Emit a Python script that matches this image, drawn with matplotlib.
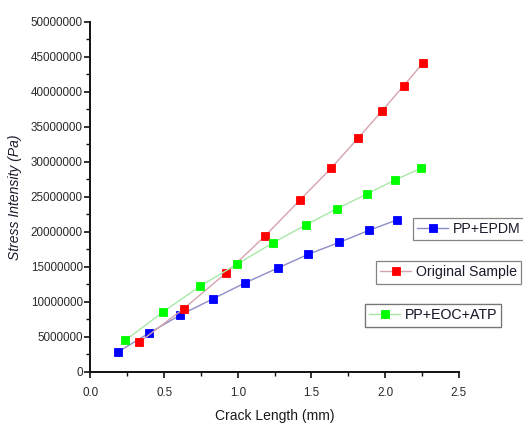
import matplotlib
matplotlib.use("Agg")
import matplotlib.pyplot as plt
from matplotlib.ticker import MultipleLocator, FormatStrFormatter

plt.rcParams['font.family'] = ['Liberation Sans', 'DejaVu Sans']

# Crack length (mm) and stress intensity (Pa) for each material
epdm_x = [0.185, 0.396, 0.61, 0.83, 1.05, 1.27, 1.48, 1.69, 1.89, 2.08]
epdm_y = [2.8e6, 5.5e6, 8.1e6, 10.4e6, 12.7e6, 14.8e6, 16.8e6, 18.5e6, 20.2e6, 21.7e6]

orig_x = [0.33, 0.633, 0.92, 1.185, 1.42, 1.634, 1.817, 1.98, 2.127, 2.26]
orig_y = [4.2e6, 9.0e6, 14.1e6, 19.4e6, 24.5e6, 29.1e6, 33.4e6, 37.3e6, 40.9e6, 44.2e6]

eoc_x = [0.237, 0.49, 0.746, 0.997, 1.237, 1.464, 1.672, 1.876, 2.066, 2.245]
eoc_y = [4.5e6, 8.5e6, 12.25e6, 15.4e6, 18.4e6, 21.0e6, 23.3e6, 25.4e6, 27.4e6, 29.1e6]

series_names = ["PP+EPDM", "Original Sample", "PP+EOC+ATP"]

fig = plt.figure(figsize=(5.23, 4.23), dpi=100)
ax = fig.add_axes([0.1729, 0.1213, 0.8771 - 0.1729, 0.948 - 0.1213])

styles = [
    (epdm_x, epdm_y, "#8c8cc8", "#0000ff"),
    (orig_x, orig_y, "#d4a4ac", "#ff0000"),
    (eoc_x, eoc_y, "#a8e8a8", "#00ff00"),
]
handles = []
for (xs, ys, lc, mc), name in zip(styles, series_names):
    h, = ax.plot(xs, ys, color=lc, lw=1.0, marker='s', markersize=5.2,
                 markerfacecolor=mc, markeredgecolor=mc, markeredgewidth=0.6,
                 label=name, zorder=3)
    handles.append(h)

ax.set_xlim(0, 2.5)
ax.set_ylim(0, 50000000)
ax.xaxis.set_major_locator(MultipleLocator(0.5))
ax.xaxis.set_minor_locator(MultipleLocator(0.25))
ax.yaxis.set_major_locator(MultipleLocator(5000000))
ax.yaxis.set_minor_locator(MultipleLocator(2500000))
ax.xaxis.set_major_formatter(FormatStrFormatter('%.1f'))
ax.yaxis.set_major_formatter(FormatStrFormatter('%d'))

for s in ['top', 'right']:
    ax.spines[s].set_visible(False)
for s in ['left', 'bottom']:
    ax.spines[s].set_linewidth(1.4)
    ax.spines[s].set_color('#111111')

ax.tick_params(which='major', direction='out', length=4, width=1.2,
               labelsize=8.4, colors='#111111', labelcolor='#2a2a2a')
ax.tick_params(which='minor', direction='out', length=3, width=1.0, colors='#111111')
ax.tick_params(axis='y', which='major', pad=1.5)
ax.tick_params(axis='x', which='major', pad=7)

ax.set_xlabel("Crack Length (mm)", fontsize=10, color='#1a1a1a', labelpad=7)
ax.set_ylabel("Stress Intensity (Pa)", fontsize=10, style='italic', color='#1a1a2a', labelpad=6)

# one framed legend box per series
anchors = [(413 / 523, 1 - 218 / 423), (376 / 523, 1 - 261 / 423), (365 / 523, 1 - 304 / 423)]
for h, anc in zip(handles, anchors):
    leg = ax.legend(handles=[h], loc='upper left', bbox_to_anchor=anc,
                    bbox_transform=fig.transFigure, borderaxespad=0,
                    frameon=True, fancybox=False, shadow=False, fontsize=10.2,
                    handlelength=2.2, handletextpad=0.3, borderpad=0.3,
                    labelcolor='#1a1a2a')
    leg.get_frame().set_edgecolor('#666666')
    leg.get_frame().set_linewidth(0.9)
    ax.add_artist(leg)

fig.savefig("out.png", dpi=100, facecolor='white')
